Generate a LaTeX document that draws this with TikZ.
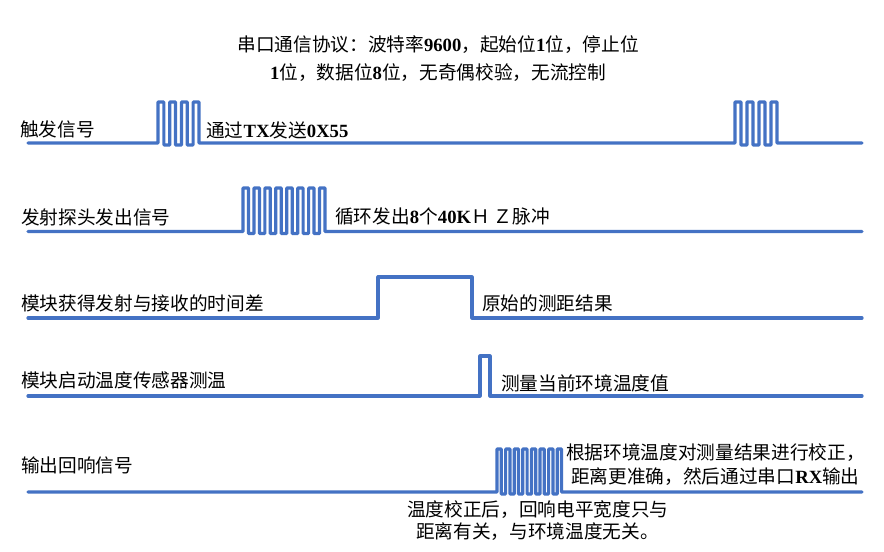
\documentclass[tikz,border=0pt]{standalone}
\usepackage{fontspec}
\setmainfont{Noto Sans CJK SC}
\newfontfamily\serifbf{Liberation Serif}
\newcommand\latb[1]{{\serifbf\bfseries #1}}
\definecolor{wblue}{RGB}{68,114,196}
\begin{document}
\begin{tikzpicture}[x=0.75pt,y=-0.75pt,
  wave/.style={draw=wblue, line width=2.4pt, line join=round, line cap=round},
  lbl/.style={anchor=west, inner sep=0pt, font=\fontsize{14}{17}\selectfont, text=black},
  ttl/.style={inner sep=0pt, align=center, font=\fontsize{14}{21}\selectfont, text=black}]
\useasboundingbox[fill=white] (0,0) rectangle (884,552);

% title
\node[ttl] (title) at (438,59) {串口通信协议：波特率\latb{9600}，起始位\latb{1}位，停止位\\\latb{1}位，数据位\latb{8}位，无奇偶校验，无流控制};

% row 1: trigger
\draw[wave] (28,143) -- (158,143)
  \foreach \i in {0,1,2} { -- ({158+2*\i*5.857},102) -- ({158+(2*\i+1)*5.857},102) -- ({158+(2*\i+1)*5.857},145) -- ({158+(2*\i+2)*5.857},145) }
  -- (193.14,102) -- (199,102) -- (199,143) -- (735,143)
  \foreach \i in {0,1,2} { -- ({735+2*\i*6},102) -- ({735+(2*\i+1)*6},102) -- ({735+(2*\i+1)*6},145) -- ({735+(2*\i+2)*6},145) }
  -- (771,102) -- (777,102) -- (777,143) -- (862,143);
\node[lbl] (l1) at (20,129) {触发信号};
\node[lbl] (n1) at (206,130) {通过\latb{TX}发送\latb{0X55}};

% row 2: transmitter
\draw[wave] (28,231.5) -- (243,231.5)
  \foreach \i in {0,...,6} { -- ({243+2*\i*5.467},188) -- ({243+(2*\i+1)*5.467},188) -- ({243+(2*\i+1)*5.467},233.5) -- ({243+(2*\i+2)*5.467},233.5) }
  -- (319.53,188) -- (325,188) -- (325,231.5) -- (862,231.5);
\node[lbl] (l2) at (21,217) {发射探头发出信号};
\node[lbl] (n2) at (335,216) {循环发出\latb{8}个\latb{40K}Ｈ Ｚ脉冲};

% row 3: time difference
\draw[wave] (28,318) -- (378,318) -- (378,277) -- (472,277) -- (472,318) -- (862,318);
\node[lbl] (l3) at (21,303) {模块获得发射与接收的时间差};
\node[lbl] (n3) at (482,303) {原始的测距结果};

% row 4: temperature sensor
\draw[wave] (28,396) -- (480,396) -- (480,356) -- (490,356) -- (490,396) -- (862,396);
\node[lbl] (l4) at (21,380) {模块启动温度传感器测温};
\node[lbl] (n4) at (501,383) {测量当前环境温度值};

% row 5: echo output
\draw[wave] (28,492) -- (497,492)
  \foreach \i in {0,...,6} { -- ({497+2*\i*4.3},449) -- ({497+(2*\i+1)*4.3},449) -- ({497+(2*\i+1)*4.3},494) -- ({497+(2*\i+2)*4.3},494) }
  -- (557.2,449) -- (561.5,449) -- (561.5,492) -- (862,492);
\node[lbl] (l5) at (21,465) {输出回响信号};
\node[lbl] (n5a) at (566,453) {根据环境温度对测量结果进行校正，};
\node[lbl] (n5b) at (571,477) {距离更准确，然后通过串口\latb{RX}输出};
\node[lbl] (n5c) at (407,510) {温度校正后，回响电平宽度只与};
\node[lbl] (n5d) at (416,532) {距离有关，与环境温度无关。};
\end{tikzpicture}
\end{document}
